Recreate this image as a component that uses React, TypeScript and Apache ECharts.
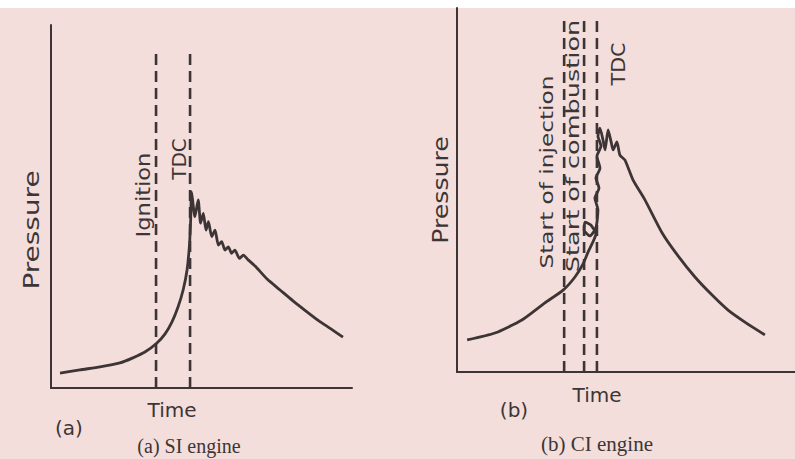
import React, { useEffect, useRef } from "react";
import * as echarts from "echarts";

// Normalised units: time 0–100, pressure 0–100 in each panel
const siCurve: [number, number][] = [
  [3.0, 4.1], [9.6, 5.0], [16.3, 5.8], [22.9, 6.9], [27.2, 8.3], [31.2, 9.9],
  [35.2, 12.4], [37.9, 14.9], [40.2, 18.2], [42.2, 22.3], [43.9, 27.0], [45.2, 32.5],
  [46.0, 39.4], [46.4, 46.3], [46.7, 54.0], [47.8, 47.2], [48.9, 51.8], [49.7, 45.4],
  [50.6, 48.1], [51.5, 43.5], [52.3, 45.8], [53.4, 41.7], [54.5, 43.5], [55.6, 39.4],
  [56.7, 40.3], [57.8, 38.0], [58.9, 38.9], [60.0, 37.1], [61.1, 38.0], [62.6, 35.7],
  [63.9, 36.6], [65.5, 35.3], [67.8, 33.6], [71.8, 30.0], [76.1, 27.0], [80.4, 24.0],
  [84.7, 21.2], [89.0, 18.5], [93.0, 16.3], [97.0, 14.0],
];
const siIgnition = 34.9;
const siTdc = 46.2;
const siMarkerTop = 93.1;

const ciCurve: [number, number][] = [
  [3.0, 8.8], [11.2, 10.7], [19.2, 14.3], [26.0, 19.0], [31.4, 22.5], [34.9, 26.1],
  [37.3, 29.7], [38.8, 33.0], [40.2, 35.7], [41.1, 37.9], [39.6, 40.4], [37.9, 41.2],
  [37.6, 39.0], [39.3, 37.4], [41.1, 39.6], [41.7, 44.5], [40.8, 47.8], [42.0, 50.5],
  [41.1, 53.3], [42.3, 56.0], [41.4, 59.3], [42.6, 62.1], [41.7, 64.8], [42.3, 67.0],
  [43.2, 63.7], [43.8, 61.0], [44.7, 66.5], [45.6, 63.2], [46.2, 61.0], [47.3, 63.2],
  [48.2, 59.6], [49.7, 58.2], [52.1, 52.7], [55.6, 47.3], [60.7, 38.2], [65.4, 31.9],
  [70.4, 26.1], [75.4, 21.2], [80.2, 17.0], [85.5, 13.5], [91.1, 10.2],
];
const ciInjection = 31.7;
const ciCombustion = 37.6;
const ciTdc = 41.4;
const ciMarkerTop = 96.7;

const ink = "#3d3535";
const sans = "DejaVu Sans";
const serif = "Liberation Serif";

function dashed(x: number, top: number, idx: number) {
  return {
    type: "line",
    xAxisIndex: idx,
    yAxisIndex: idx,
    data: [[x, 0], [x, top]],
    symbol: "none",
    lineStyle: { color: ink, width: 2.6, type: [11, 6] },
    silent: true,
  };
}

function label(
  text: string, x: number, y: number, size: number,
  rotate = false, stretch = 1, font = sans,
) {
  return {
    type: "text",
    x,
    y,
    rotation: rotate ? Math.PI / 2 : 0,
    scaleX: stretch,
    style: {
      text,
      fill: ink,
      font: `${size}px "${font}"`,
      align: "center",
      verticalAlign: "middle",
    },
  };
}

export default function App() {
  const ref = useRef<HTMLDivElement>(null);
  useEffect(() => {
    if (!ref.current) return;
    const chart = echarts.init(ref.current, null, { renderer: "svg" });
    const axisCommon = {
      type: "value",
      min: 0,
      max: 100,
      axisTick: { show: false },
      axisLabel: { show: false },
      splitLine: { show: false },
      axisLine: { show: true, lineStyle: { color: ink, width: 2 } },
    };
    chart.setOption({
      animation: false,
      backgroundColor: "#ffffff",
      grid: [
        { left: 51, top: 25, width: 301, height: 363 },
        { left: 457, top: 8, width: 338, height: 364 },
      ],
      xAxis: [
        { ...axisCommon, gridIndex: 0 },
        { ...axisCommon, gridIndex: 1 },
      ],
      yAxis: [
        { ...axisCommon, gridIndex: 0 },
        { ...axisCommon, gridIndex: 1 },
      ],
      graphic: [
        { type: "rect", z: -10, shape: { x: 0, y: 8, width: 795, height: 451 }, style: { fill: "#f3dedb" } },
        label("Pressure", 32, 230, 22, true, 1.27),
        label("Ignition", 143, 195, 20, true, 1.13),
        label("TDC", 179, 159, 20, true),
        label("Time", 172, 410, 20),
        label("(a)", 69, 428, 20),
        label("(a) SI engine", 189, 446, 20, false, 1, serif),
        label("Pressure", 440, 190, 21, true, 1.2),
        label("Start of injection", 547, 172, 18, true, 1.29),
        label("Start of combustion", 572, 146, 18, true, 1.42),
        label("TDC", 619, 64, 19, true, 1.09),
        label("Time", 597, 395, 20),
        label("(b)", 514, 410, 20),
        label("(b) CI engine", 597, 444, 21, false, 1, serif),
      ],
      series: [
        dashed(siIgnition, siMarkerTop, 0),
        dashed(siTdc, siMarkerTop, 0),
        {
          type: "line", xAxisIndex: 0, yAxisIndex: 0, data: siCurve, symbol: "none", smooth: 0.2,
          lineStyle: { color: ink, width: 2.8 },
        },
        dashed(ciInjection, ciMarkerTop, 1),
        dashed(ciCombustion, ciMarkerTop, 1),
        dashed(ciTdc, ciMarkerTop, 1),
        {
          type: "line", xAxisIndex: 1, yAxisIndex: 1, data: ciCurve, symbol: "none", smooth: 0.2,
          lineStyle: { color: ink, width: 2.8 },
        },
      ],
    });
    return () => chart.dispose();
  }, []);
  return <div ref={ref} style={{ position: "fixed", left: 0, top: 0, width: 795, height: 459 }} />;
}
